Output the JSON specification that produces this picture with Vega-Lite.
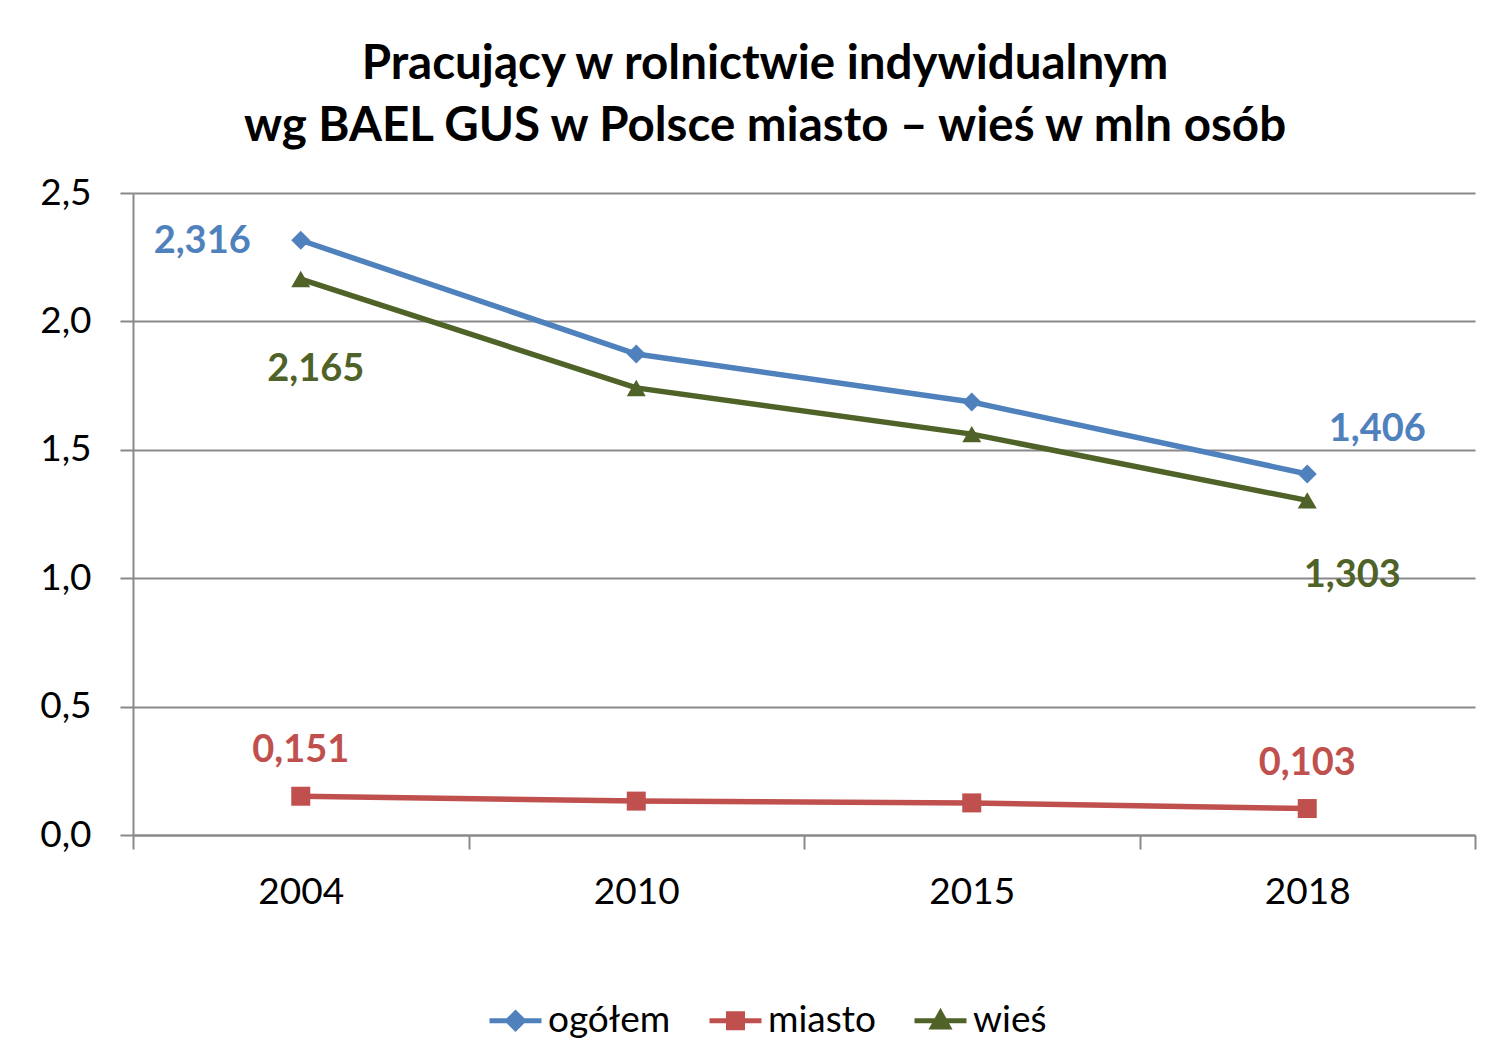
{
  "$schema": "https://vega.github.io/schema/vega-lite/v6.json",
  "width": 1342,
  "height": 642,
  "autosize": {"type": "none"},
  "padding": {"left": 133, "top": 193, "right": 31, "bottom": 227},
  "background": "white",
  "title": {
    "text": ["Pracujący w rolnictwie indywidualnym", "wg BAEL GUS w Polsce miasto – wieś w mln osób"],
    "font": "Lato",
    "fontSize": 47.5,
    "fontWeight": "bold",
    "color": "black",
    "anchor": "middle",
    "dx": -39,
    "lineHeight": 62,
    "offset": 24
  },
  "data": {
    "values": [
      {"year": "2004", "series": "ogółem", "value": 2.316},
      {"year": "2010", "series": "ogółem", "value": 1.873},
      {"year": "2015", "series": "ogółem", "value": 1.686},
      {"year": "2018", "series": "ogółem", "value": 1.406},
      {"year": "2004", "series": "miasto", "value": 0.151},
      {"year": "2010", "series": "miasto", "value": 0.132},
      {"year": "2015", "series": "miasto", "value": 0.125},
      {"year": "2018", "series": "miasto", "value": 0.103},
      {"year": "2004", "series": "wieś", "value": 2.165},
      {"year": "2010", "series": "wieś", "value": 1.741},
      {"year": "2015", "series": "wieś", "value": 1.561},
      {"year": "2018", "series": "wieś", "value": 1.303}
    ]
  },
  "encoding": {
    "x": {
      "field": "year",
      "type": "ordinal",
      "scale": {"type": "band", "paddingInner": 0, "paddingOuter": 0},
      "axis": {
        "title": null,
        "labelAngle": 0,
        "tickBand": "extent",
        "tickSize": 14,
        "labelPadding": 25,
        "grid": false
      }
    },
    "y": {
      "field": "value",
      "type": "quantitative",
      "scale": {"domain": [0, 2.5], "nice": false},
      "axis": {
        "title": null,
        "values": [0, 0.5, 1, 1.5, 2, 2.5],
        "format": ".1f",
        "grid": true,
        "tickSize": 13,
        "labelPadding": 29
      }
    }
  },
  "layer": [
    {
      "mark": {"type": "line", "strokeWidth": 5.5},
      "encoding": {
        "stroke": {
          "field": "series",
          "type": "nominal",
          "scale": {"domain": ["ogółem", "miasto", "wieś"], "range": ["#4F81BD", "#C0504D", "#4F6228"]},
          "legend": {
            "orient": "none",
            "legendX": 354,
            "legendY": 799,
            "direction": "horizontal",
            "title": null,
            "labelFont": "Lato",
            "labelFontSize": 37,
            "labelColor": "black",
            "labelOffset": 4,
            "columnPadding": 28,
            "symbolSize": 2700,
            "symbolStrokeWidth": 5,
            "symbolType": "M-1,0H1",
            "encoding": {
              "symbols": {
                "shape": {"value": {"signal": "datum.value == 'ogółem' ? 'M-1,0H1M0,-0.3L0.3,0L0,0.3L-0.3,0Z' : datum.value == 'miasto' ? 'M-1,0H1M-0.27,-0.27H0.27V0.27H-0.27Z' : 'M-1,0H1M0,-0.3L0.3,0.24L-0.3,0.24Z'"}},
                "fill": {"value": {"signal": "scale('stroke', datum.value)"}}
              }
            }
          }
        }
      }
    },
    {
      "transform": [{"filter": "datum.series == 'ogółem'"}],
      "mark": {"type": "point", "filled": true, "opacity": 1, "shape": "diamond", "size": 360, "color": "#4F81BD"}
    },
    {
      "transform": [{"filter": "datum.series == 'miasto'"}],
      "mark": {"type": "point", "filled": true, "opacity": 1, "shape": "square", "size": 361, "color": "#C0504D"}
    },
    {
      "transform": [{"filter": "datum.series == 'wieś'"}],
      "mark": {"type": "point", "filled": true, "opacity": 1, "shape": "triangle-up", "size": 360, "color": "#4F6228"}
    },
    {
      "transform": [{"filter": "datum.series == 'ogółem' && datum.year == '2004'"}],
      "mark": {"type": "text", "align": "right", "baseline": "middle", "dx": -50, "dy": 2, "font": "Lato", "fontSize": 38, "fontWeight": "bold", "color": "#4F81BD"},
      "encoding": {"text": {"field": "value", "type": "quantitative", "format": ".3f"}}
    },
    {
      "transform": [{"filter": "datum.series == 'wieś' && datum.year == '2004'"}],
      "mark": {"type": "text", "align": "center", "baseline": "middle", "dx": 15, "dy": 91, "font": "Lato", "fontSize": 38, "fontWeight": "bold", "color": "#4F6228"},
      "encoding": {"text": {"field": "value", "type": "quantitative", "format": ".3f"}}
    },
    {
      "transform": [{"filter": "datum.series == 'ogółem' && datum.year == '2018'"}],
      "mark": {"type": "text", "align": "center", "baseline": "middle", "dx": 70, "dy": -44, "font": "Lato", "fontSize": 38, "fontWeight": "bold", "color": "#4F81BD"},
      "encoding": {"text": {"field": "value", "type": "quantitative", "format": ".3f"}}
    },
    {
      "transform": [{"filter": "datum.series == 'wieś' && datum.year == '2018'"}],
      "mark": {"type": "text", "align": "center", "baseline": "middle", "dx": 45, "dy": 76, "font": "Lato", "fontSize": 38, "fontWeight": "bold", "color": "#4F6228"},
      "encoding": {"text": {"field": "value", "type": "quantitative", "format": ".3f"}}
    },
    {
      "transform": [{"filter": "datum.series == 'miasto' && (datum.year == '2004' || datum.year == '2018')"}],
      "mark": {"type": "text", "align": "center", "baseline": "middle", "dx": 0, "dy": -45, "font": "Lato", "fontSize": 38, "fontWeight": "bold", "color": "#C0504D"},
      "encoding": {"text": {"field": "value", "type": "quantitative", "format": ".3f"}}
    }
  ],
  "config": {
    "locale": {"number": {"decimal": ",", "thousands": " ", "grouping": [3], "currency": ["", " zł"]}},
    "view": {"stroke": null},
    "axis": {
      "labelFont": "Lato",
      "labelFontSize": 37,
      "labelColor": "black",
      "domainColor": "#898989",
      "domainWidth": 2,
      "tickColor": "#898989",
      "tickWidth": 2,
      "gridColor": "#898989",
      "gridWidth": 2
    }
  }
}
